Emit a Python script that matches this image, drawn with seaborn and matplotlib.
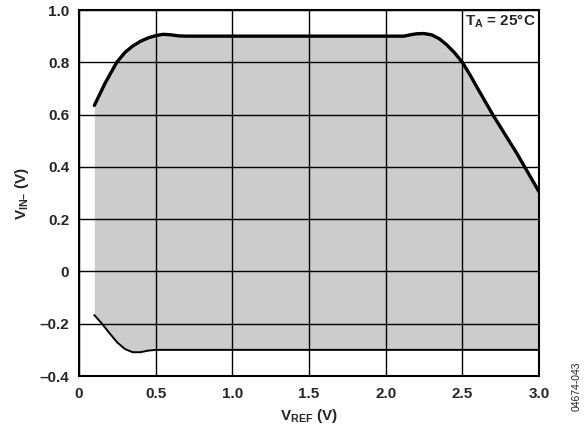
import numpy as np
import pandas as pd
import matplotlib
matplotlib.use("Agg")
import matplotlib.pyplot as plt
import seaborn as sns

# Data
upper_x = [0.10, 0.17, 0.246, 0.30, 0.35, 0.40, 0.45, 0.50, 0.55, 0.60, 0.65, 0.70, 1.0, 1.5, 2.0, 2.12, 2.16, 2.20, 2.25, 2.30, 2.35, 2.40, 2.45, 2.50, 2.55, 2.60, 2.70, 2.855, 3.0]
upper_y = [0.635, 0.72, 0.80, 0.838, 0.862, 0.880, 0.893, 0.902, 0.907, 0.905, 0.901, 0.900, 0.900, 0.900, 0.900, 0.900, 0.905, 0.909, 0.910, 0.905, 0.890, 0.866, 0.836, 0.800, 0.752, 0.700, 0.598, 0.452, 0.305]
lower_x = [0.10, 0.15, 0.20, 0.25, 0.30, 0.35, 0.40, 0.45, 0.50, 1.0, 1.5, 2.0, 2.5, 3.0]
lower_y = [-0.167, -0.200, -0.237, -0.272, -0.297, -0.309, -0.309, -0.303, -0.300, -0.300, -0.300, -0.300, -0.300, -0.300]
xticks = [0, 0.5, 1.0, 1.5, 2.0, 2.5, 3.0]
xticklabels = ["0", "0.5", "1.0", "1.5", "2.0", "2.5", "3.0"]
yticks = [-0.4, -0.2, 0, 0.2, 0.4, 0.6, 0.8, 1.0]
yticklabels = ["\u20130.4", "\u20130.2", "0", "0.2", "0.4", "0.6", "0.8", "1.0"]

sns.set_style("white")
plt.rcParams['font.family'] = ['Liberation Sans', 'DejaVu Sans']
plt.rcParams['mathtext.fontset'] = 'custom'
plt.rcParams['mathtext.rm'] = 'Liberation Sans:bold'
plt.rcParams['mathtext.it'] = 'Liberation Sans:bold'
plt.rcParams['mathtext.bf'] = 'Liberation Sans:bold'

FS = 11

fig = plt.figure(figsize=(5.84, 4.25), dpi=100)
ax = fig.add_axes([79/584, 1 - 376/425, 460/584, 366/425])

grid_x = np.union1d(upper_x, lower_x)
up_g = np.interp(grid_x, upper_x, upper_y)
lo_g = np.interp(grid_x, lower_x, lower_y)
ax.fill_between(grid_x, lo_g, up_g, color="#cccccc", linewidth=0, zorder=1)

ax.set_xlim(0, 3.0)
ax.set_ylim(-0.4, 1.0)
ax.set_xticks(xticks)
ax.set_xticklabels(xticklabels)
ax.set_yticks(yticks)
ax.set_yticklabels(yticklabels)
ax.grid(True, color="black", linewidth=1.0, zorder=2)
ax.set_axisbelow(False)

up_df = pd.DataFrame({"x": upper_x, "y": upper_y})
lo_df = pd.DataFrame({"x": lower_x, "y": lower_y})
sns.lineplot(data=up_df, x="x", y="y", ax=ax, color="black", linewidth=2.4, zorder=4, sort=False)
sns.lineplot(data=lo_df, x="x", y="y", ax=ax, color="black", linewidth=1.4, zorder=4, sort=False)
for ln in ax.lines:
    ln.set_solid_joinstyle("round")

for s in ax.spines.values():
    s.set_color("black")
    s.set_linewidth(1.5)
    s.set_zorder(5)

ax.tick_params(axis="both", length=0, labelsize=FS)
ax.tick_params(axis="x", pad=8)
ax.tick_params(axis="y", pad=7)
for lbl in ax.get_xticklabels() + ax.get_yticklabels():
    lbl.set_fontweight("bold")

ax.set_xlabel(r"V$_{\mathregular{REF}}$ (V)", fontsize=FS, fontweight="bold", labelpad=4)
ax.set_ylabel("V$_{\\mathregular{IN\u2013}}$ (V)", fontsize=FS, fontweight="bold", labelpad=6)

ax.text(2.52, 0.99, r"T$_{\mathregular{A}}$ = 25°C", fontsize=FS, fontweight="bold",
        ha="left", va="top", zorder=6)

fig.text(577/584, 1 - 386/425, "04674-043", rotation=90, fontsize=7.5, ha="center", va="center")

fig.savefig("out.png", dpi=100)
